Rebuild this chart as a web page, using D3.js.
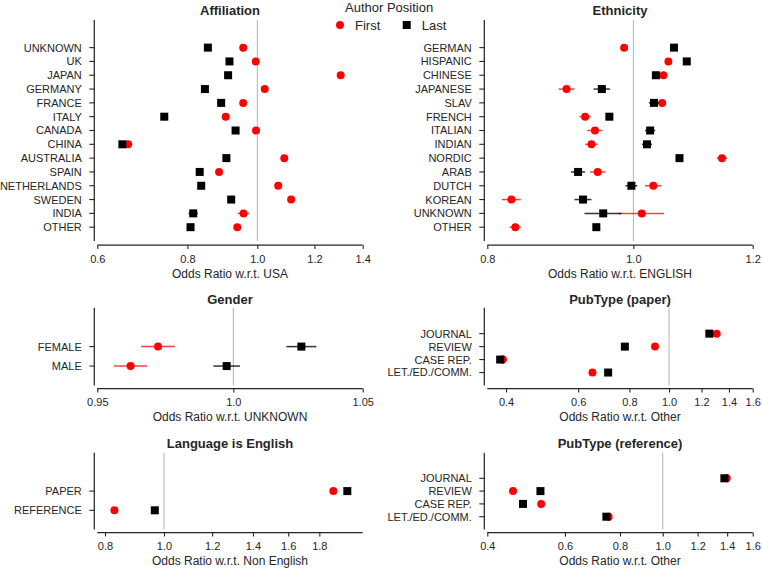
<!DOCTYPE html>
<html>
<head>
<meta charset="utf-8">
<script src="https://cdn.jsdelivr.net/npm/d3@7"></script>
<style>
  body { margin: 0; background: #fff; }
  svg { display: block; font-family: "Liberation Sans", Arial, sans-serif; }
</style>
</head>
<body>
<svg id="chart" width="762" height="571"></svg>
<script>
// ---------------- DATA ----------------
const affCats = ["UNKNOWN","UK","JAPAN","GERMANY","FRANCE","ITALY","CANADA","CHINA","AUSTRALIA","SPAIN","NETHERLANDS","SWEDEN","INDIA","OTHER"];
const affFirst = [0.956,0.995,1.305,1.024,0.956,0.904,0.996,0.662,1.090,0.885,1.069,1.114,0.957,0.938];
const affLast  = [0.854,0.915,0.911,0.846,0.891,0.743,0.933,0.650,0.906,0.832,0.836,0.920,0.815,0.808];
const affFirstErr = [0.004,0.004,0.005,0.004,0.004,0.004,0.004,0.009,0.005,0.004,0.004,0.005,0.018,0.004];
const affLastErr  = [0.004,0.004,0.004,0.004,0.004,0.004,0.004,0.006,0.004,0.004,0.004,0.004,0.012,0.004];
const affTicks = [0.6,0.8,1.0,1.2,1.4];
const affTickLabels = ["0.6","0.8","1.0","1.2","1.4"];

const ethCats = ["GERMAN","HISPANIC","CHINESE","JAPANESE","SLAV","FRENCH","ITALIAN","INDIAN","NORDIC","ARAB","DUTCH","KOREAN","UNKNOWN","OTHER"];
const ethFirst = [0.986,1.055,1.047,0.903,1.045,0.929,0.943,0.938,1.145,0.947,1.031,0.830,1.013,0.835];
const ethLast  = [1.064,1.085,1.035,0.953,1.032,0.964,1.026,1.021,1.073,0.919,0.997,0.926,0.955,0.945];
const ethFirstErr = [0.004,0.005,0.006,0.011,0.006,0.008,0.011,0.009,0.009,0.011,0.013,0.012,0.035,0.007];
const ethLastErr  = [0.004,0.004,0.006,0.012,0.008,0.004,0.008,0.008,0.005,0.010,0.009,0.012,0.027,0.004];
const ethTicks = [0.8,1.0,1.2];
const ethTickLabels = ["0.8","1.0","1.2"];

const genCats = ["FEMALE","MALE"];
const genFirst = [0.972,0.962];
const genLast  = [1.026,0.9975];
const genFirstErr = [0.0062,0.006];
const genLastErr  = [0.0058,0.005];
const genTicks = [0.95,1.0,1.05];
const genTickLabels = ["0.95","1.0","1.05"];

const ppCats = ["JOURNAL","REVIEW","CASE REP.","LET./ED./COMM."];
const ppFirst = [1.307,0.924,0.393,0.650];
const ppLast  = [1.254,0.780,0.387,0.710];
const ppFirstErr = [0.005,0.005,0.004,0.004];
const ppLastErr  = [0.005,0.005,0.004,0.004];
const ppTicks = [0.4,0.6,0.8,1.0,1.2,1.4,1.6];
const ppTickLabels = ["0.4","0.6","0.8","1.0","1.2","1.4","1.6"];

const langCats = ["PAPER","REFERENCE"];
const langFirst = [1.898,0.829];
const langLast  = [2.001,0.966];
const langFirstErr = [0.006,0.004];
const langLastErr  = [0.006,0.005];
const langTicks = [0.8,1.0,1.2,1.4,1.6,1.8];
const langTickLabels = ["0.8","1.0","1.2","1.4","1.6","1.8"];

const prCats = ["JOURNAL","REVIEW","CASE REP.","LET./ED./COMM."];
const prFirst = [1.397,0.4575,0.530,0.754];
const prLast  = [1.380,0.528,0.482,0.745];
const prFirstErr = [0.005,0.004,0.004,0.004];
const prLastErr  = [0.005,0.004,0.004,0.004];
const prTicks = [0.4,0.6,0.8,1.0,1.2,1.4,1.6];
const prTickLabels = ["0.4","0.6","0.8","1.0","1.2","1.4","1.6"];

const seriesNames = ["First","Last"];
const legendTitle = "Author Position";

// ---------------- LAYOUT ----------------
const TEXT = "#262626";
const RED = "#ff0000";
const cols = { L: { spine: 94.3, x0: 97.3, x1: 362.7 }, R: { spine: 484.3, x0: 487.3, x1: 752.7 } };
const rows = [
  { top: 20,    bottom: 241,   axis: 245,   title: 15 },
  { top: 307.7, bottom: 385.5, axis: 388.5, title: 304 },
  { top: 452.7, bottom: 529.5, axis: 532.5, title: 448.3 }
];

const panels = [
  { title: "Affiliation", col: "L", row: 0, cats: affCats, first: affFirst, last: affLast, fe: affFirstErr, le: affLastErr, domain: [0.6, 1.4], ticks: affTicks, labels: affTickLabels, xlabel: "Odds Ratio w.r.t. USA" },
  { title: "Ethnicity", col: "R", row: 0, cats: ethCats, first: ethFirst, last: ethLast, fe: ethFirstErr, le: ethLastErr, domain: [0.8, 1.2], ticks: ethTicks, labels: ethTickLabels, xlabel: "Odds Ratio w.r.t. ENGLISH" },
  { title: "Gender", col: "L", row: 1, cats: genCats, first: genFirst, last: genLast, fe: genFirstErr, le: genLastErr, domain: [0.95, 1.05], ticks: genTicks, labels: genTickLabels, xlabel: "Odds Ratio w.r.t. UNKNOWN" },
  { title: "PubType (paper)", col: "R", row: 1, cats: ppCats, first: ppFirst, last: ppLast, fe: ppFirstErr, le: ppLastErr, domain: [0.36, 1.6], ticks: ppTicks, labels: ppTickLabels, xlabel: "Odds Ratio w.r.t. Other" },
  { title: "Language is English", col: "L", row: 2, cats: langCats, first: langFirst, last: langLast, fe: langFirstErr, le: langLastErr, domain: [0.777, 2.121], ticks: langTicks, labels: langTickLabels, xlabel: "Odds Ratio w.r.t. Non English" },
  { title: "PubType (reference)", col: "R", row: 2, cats: prCats, first: prFirst, last: prLast, fe: prFirstErr, le: prLastErr, domain: [0.4, 1.6], ticks: prTicks, labels: prTickLabels, xlabel: "Odds Ratio w.r.t. Other" }
];

const svg = d3.select("#chart");

panels.forEach(p => {
  const c = cols[p.col], r = rows[p.row];
  const n = p.cats.length;
  const x = d3.scaleLog().domain(p.domain).range([c.x0, c.x1]);
  const y = d3.scaleLinear().domain([-1, n + 1]).range([r.bottom, r.top]);
  const yi = i => y(n - 1 - i);
  const g = svg.append("g");

  // title
  g.append("text").attr("x", (c.x0 + c.x1) / 2).attr("y", r.title)
    .attr("text-anchor", "middle").attr("font-size", 13).attr("font-weight", "bold")
    .attr("fill", TEXT).text(p.title);

  // reference line at 1
  g.append("line").attr("x1", x(1)).attr("x2", x(1)).attr("y1", r.top).attr("y2", r.bottom)
    .attr("stroke", "#b3b3b3").attr("stroke-width", 1);

  // y spine
  g.append("line").attr("x1", c.spine).attr("x2", c.spine).attr("y1", r.top).attr("y2", r.bottom)
    .attr("stroke", TEXT).attr("stroke-width", 1.25);
  // y ticks + labels
  p.cats.forEach((cat, i) => {
    g.append("line").attr("x1", c.spine - 5).attr("x2", c.spine).attr("y1", yi(i)).attr("y2", yi(i))
      .attr("stroke", TEXT).attr("stroke-width", 1.1);
    g.append("text").attr("x", c.spine - 12.5).attr("y", yi(i)).attr("dy", "0.36em")
      .attr("text-anchor", "end").attr("font-size", 11).attr("fill", TEXT).text(cat);
  });

  // x axis via d3.axisBottom
  const ax = g.append("g").attr("transform", `translate(0,${r.axis})`)
    .call(d3.axisBottom(x).tickValues(p.ticks).tickFormat((d, i) => p.labels[i]).tickSize(4).tickSizeOuter(0).tickPadding(6));
  ax.select(".domain").attr("stroke", TEXT).attr("stroke-width", 1.25)
    .attr("d", `M${c.x0},0H${c.x1}`);
  ax.selectAll(".tick line").attr("stroke", TEXT).attr("stroke-width", 1.1);
  ax.selectAll(".tick text").attr("fill", TEXT).attr("font-size", 11)
    .attr("font-family", "Liberation Sans, Arial, sans-serif");

  g.append("text").attr("x", (c.x0 + c.x1) / 2).attr("y", r.axis + 32.5)
    .attr("text-anchor", "middle").attr("font-size", 12).attr("fill", TEXT).text(p.xlabel);

  // markers: first (red circles), then last (black squares)
  p.first.forEach((v, i) => {
    g.append("line").attr("x1", x(v - p.fe[i])).attr("x2", x(v + p.fe[i]))
      .attr("y1", yi(i)).attr("y2", yi(i)).attr("stroke", RED).attr("stroke-opacity", 0.75).attr("stroke-width", 1.5);
    g.append("circle").attr("cx", x(v)).attr("cy", yi(i)).attr("r", 4).attr("fill", RED);
  });
  p.last.forEach((v, i) => {
    g.append("line").attr("x1", x(v - p.le[i])).attr("x2", x(v + p.le[i]))
      .attr("y1", yi(i)).attr("y2", yi(i)).attr("stroke", "#000").attr("stroke-opacity", 0.8).attr("stroke-width", 1.5);
    g.append("rect").attr("x", x(v) - 4).attr("y", yi(i) - 4).attr("width", 8).attr("height", 8).attr("fill", "#000");
  });
});

// legend
const lg = svg.append("g");
lg.append("text").attr("x", 345).attr("y", 11.7).attr("font-size", 13).attr("fill", TEXT).text(legendTitle);
lg.append("circle").attr("cx", 340).attr("cy", 25).attr("r", 4).attr("fill", RED);
lg.append("text").attr("x", 355).attr("y", 29.5).attr("font-size", 13).attr("fill", TEXT).text(seriesNames[0]);
lg.append("rect").attr("x", 406.7 - 4).attr("y", 21).attr("width", 8).attr("height", 8).attr("fill", "#000");
lg.append("text").attr("x", 421.7).attr("y", 29.5).attr("font-size", 13).attr("fill", TEXT).text(seriesNames[1]);
</script>
</body>
</html>
